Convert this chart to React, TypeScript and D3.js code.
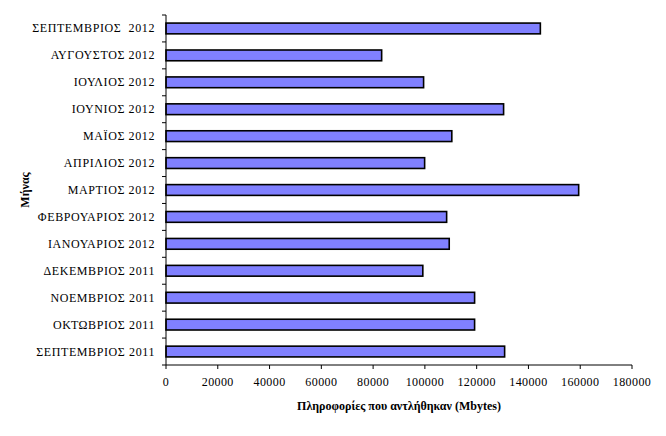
import React from "react";
import * as d3 from "d3";

const categories = [
  "ΣΕΠΤΕΜΒΡΙΟΣ  2012",
  "ΑΥΓΟΥΣΤΟΣ 2012",
  "ΙΟΥΛΙΟΣ 2012",
  "ΙΟΥΝΙΟΣ 2012",
  "ΜΑΪΟΣ 2012",
  "ΑΠΡΙΛΙΟΣ 2012",
  "ΜΑΡΤΙΟΣ 2012",
  "ΦΕΒΡΟΥΑΡΙΟΣ 2012",
  "ΙΑΝΟΥΑΡΙΟΣ 2012",
  "ΔΕΚΕΜΒΡΙΟΣ 2011",
  "ΝΟΕΜΒΡΙΟΣ 2011",
  "ΟΚΤΩΒΡΙΟΣ 2011",
  "ΣΕΠΤΕΜΒΡΙΟΣ 2011",
];
const values = [144600, 83300, 99500, 130400, 110400, 99900, 159400, 108400, 109400, 99200, 119200, 119200, 130800];
const xTicks = [0, 20000, 40000, 60000, 80000, 100000, 120000, 140000, 160000, 180000];

export default function App() {
  const W = 666, H = 436;
  const left = 166, right = 632, top = 15, bottom = 365;
  const x = d3.scaleLinear().domain([0, 180000]).range([left, right]);
  const y = d3.scaleBand<string>().domain(categories).range([top, bottom]).paddingInner(0.6).paddingOuter(0.3);
  const band = d3.scaleBand<string>().domain(categories).range([top, bottom]);
  const font = "'Liberation Serif', 'DejaVu Serif', serif";
  return (
    <svg width={W} height={H} style={{ position: "absolute", left: 0, top: 0 }}>
      <rect width={W} height={H} fill="#fff" />
      {categories.map((c, i) => (
        <rect key={c} x={x(0)} y={y(c)!} width={x(values[i]) - x(0)} height={y.bandwidth()}
          fill="#8080ff" stroke="#000" strokeWidth={1.6} />
      ))}
      <line x1={left} x2={left} y1={top} y2={bottom} stroke="#000" />
      <line x1={left} x2={right} y1={bottom} y2={bottom} stroke="#000" />
      {categories.map((c) => (
        <line key={"t" + c} x1={left - 4} x2={left} y1={band(c)!} y2={band(c)!} stroke="#000" />
      ))}
      <line x1={left - 4} x2={left} y1={bottom} y2={bottom} stroke="#000" />
      {xTicks.map((t) => (
        <g key={t}>
          <line x1={x(t)} x2={x(t)} y1={bottom} y2={bottom + 4} stroke="#000" />
          <text x={x(t)} y={386} textAnchor="middle" fontSize={12} fontFamily={font} letterSpacing={0.4}>{t}</text>
        </g>
      ))}
      {categories.map((c) => (
        <text key={"l" + c} x={155} y={band(c)! + band.bandwidth() / 2 + 4} textAnchor="end" fontSize={12} fontFamily={font} letterSpacing={0.6} style={{ whiteSpace: "pre" }}>{c}</text>
      ))}
      <text x={399} y={410} textAnchor="middle" fontSize={12} fontWeight="bold" fontFamily={font}>Πληροφορίες που αντλήθηκαν (Mbytes)</text>
      <text transform="translate(29,190) rotate(-90)" textAnchor="middle" fontSize={12} fontWeight="bold" fontFamily={font}>Μήνας</text>
    </svg>
  );
}
